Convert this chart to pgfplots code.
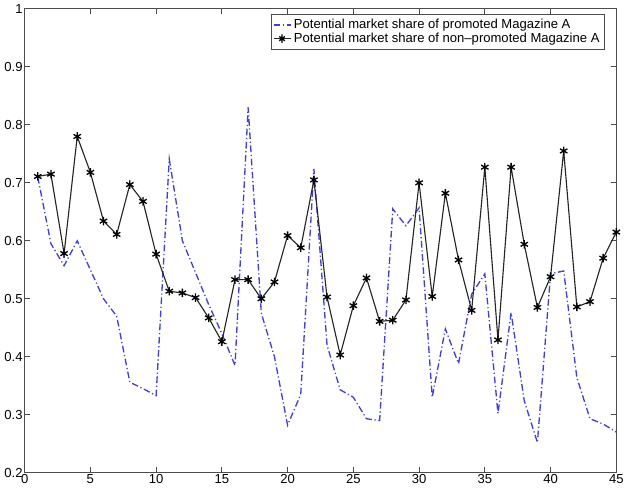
\documentclass[border=0pt]{standalone}
\usepackage{fontspec}
\setmainfont{Liberation Sans}
\usepackage{pgfplots}
\pgfplotsset{compat=1.18}
\definecolor{mblue}{rgb}{0.25,0.25,0.85}
\begin{document}
\begin{tikzpicture}
\begin{axis}[
  scale only axis,
  width=444pt, height=348pt,
  xmin=0, xmax=45, ymin=0.2, ymax=1,
  xtick={0,5,...,45},
  ytick={0.2,0.3,...,1.0},
  yticklabels={0.2,0.3,0.4,0.5,0.6,0.7,0.8,0.9,1},
  tick align=inside,
  xtick pos=both, ytick pos=both,
  major tick length=4pt,
  axis line style={black!70, line width=0.8pt},
  tick style={black!70, line width=0.7pt},
  /pgf/number format/assume math mode=true,
  tick label style={font=\fontsize{9.8}{11}\selectfont},
  xticklabel style={yshift=2pt},
  yticklabel style={xshift=2pt},
  legend style={at={(rel axis cs:0.98,0.988)}, anchor=north east,
    font=\fontsize{9.8}{11}\selectfont, draw=black!70, inner sep=1.5pt,
    row sep=-2.5pt, cells={anchor=west}},
  legend image post style={xscale=0.75},
  legend cell align=left,
]
\addplot[mblue, dash pattern=on 5pt off 2pt on 0.9pt off 2pt, line width=1pt] coordinates {
(1,0.71)(2,0.595)(3,0.557)(4,0.60)(5,0.55)(6,0.50)(7,0.47)(8,0.356)(9,0.345)(10,0.333)
(11,0.741)(12,0.60)(13,0.545)(14,0.49)(15,0.44)(16,0.385)(17,0.83)(18,0.475)(19,0.40)(20,0.282)
(21,0.335)(22,0.724)(23,0.42)(24,0.343)(25,0.33)(26,0.293)(27,0.29)(28,0.655)(29,0.626)(30,0.657)
(31,0.33)(32,0.448)(33,0.388)(34,0.508)(35,0.543)(36,0.302)(37,0.476)(38,0.324)(39,0.252)(40,0.543)
(41,0.548)(42,0.364)(43,0.293)(44,0.284)(45,0.27)
};
\addlegendentry{Potential market share of promoted Magazine A}
\addplot[black!85, line width=0.85pt, mark=asterisk, mark size=3.2pt, mark options={line width=1pt, black}] coordinates {
(1,0.711)(2,0.715)(3,0.578)(4,0.780)(5,0.718)(6,0.634)(7,0.611)(8,0.697)(9,0.668)(10,0.577)
(11,0.513)(12,0.510)(13,0.502)(14,0.467)(15,0.426)(16,0.533)(17,0.533)(18,0.500)(19,0.529)(20,0.609)
(21,0.588)(22,0.705)(23,0.503)(24,0.403)(25,0.488)(26,0.536)(27,0.461)(28,0.463)(29,0.498)(30,0.700)
(31,0.504)(32,0.682)(33,0.567)(34,0.480)(35,0.727)(36,0.429)(37,0.727)(38,0.594)(39,0.485)(40,0.538)
(41,0.755)(42,0.486)(43,0.495)(44,0.570)(45,0.615)
};
\addlegendentry{Potential market share of non\textendash promoted Magazine A}
\end{axis}
\end{tikzpicture}
\end{document}
